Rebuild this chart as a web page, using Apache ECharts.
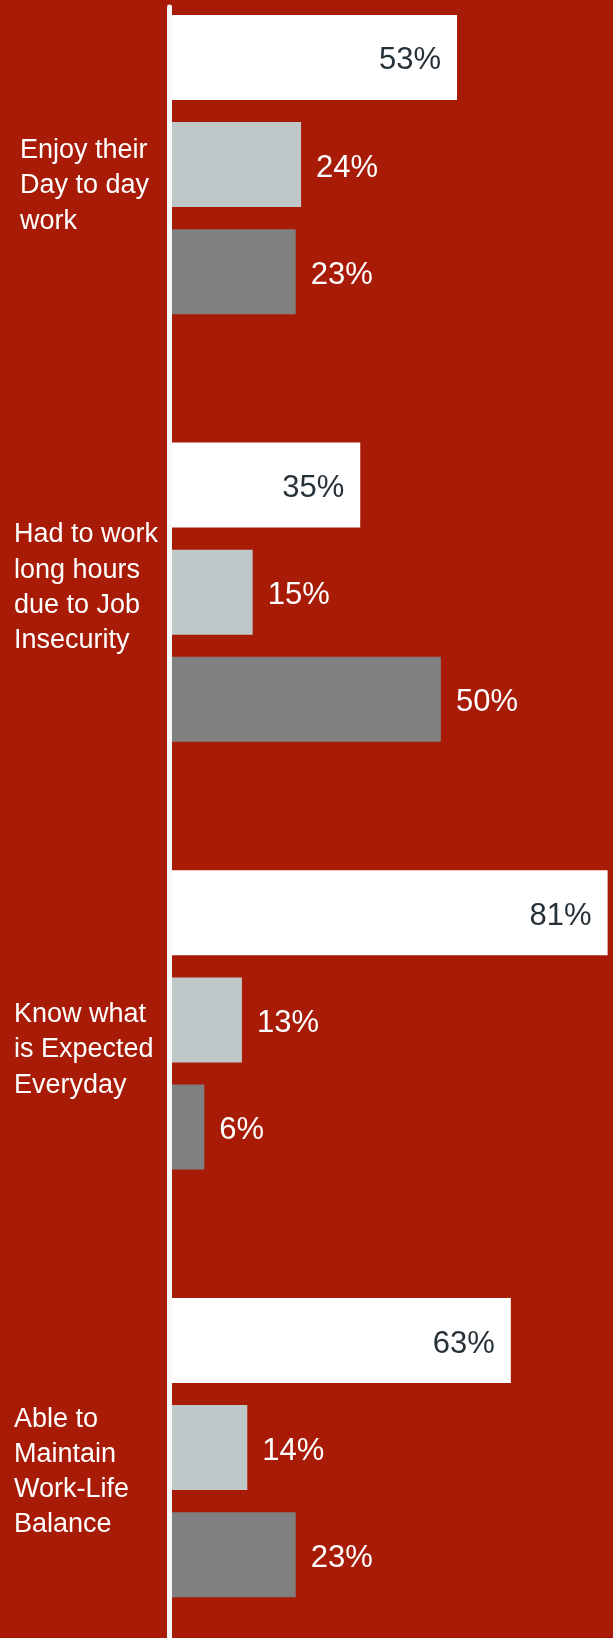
<!DOCTYPE html>
<html>
<head>
<meta charset="utf-8">
<script src="https://cdn.jsdelivr.net/npm/echarts@6/dist/echarts.min.js"></script>
<style>
html,body{margin:0;padding:0;background:#a81b07;}
#c{width:613px;height:1638px;}
</style>
</head>
<body>
<div id="c"></div>
<script>
// ---- data ----
var categories = [
  'Enjoy their\nDay to day\nwork',
  'Had to work\nlong hours\ndue to Job\nInsecurity',
  'Know what\nis Expected\nEveryday',
  'Able to\nMaintain\nWork-Life\nBalance'
];
var seriesA = [53, 35, 81, 63];
var seriesB = [24, 15, 13, 14];
var seriesC = [23, 50, 6, 23];

// ---- label layout tweaks (style only) ----
var labelShift = [21.5, -4.5, 30, 24.5];   // px, vertical offset of each category label block
var labelIndent = [6, 0, 0, 0];           // px, extra left indent

var chart = echarts.init(document.getElementById('c'), null, {renderer: 'canvas'});
var font = 'Liberation Sans, Arial, Helvetica, sans-serif';

function mkSeries(data, color, inside) {
  return {
    type: 'bar',
    xAxisIndex: 0,
    yAxisIndex: 0,
    data: data,
    barWidth: 85,
    barGap: '26%',
    itemStyle: {color: color},
    label: {
      show: true,
      position: inside ? 'insideRight' : 'right',
      distance: inside ? 16 : 15,
      offset: [0, 3.5],
      formatter: '{c}%',
      color: inside ? '#263238' : '#ffffff',
      fontSize: 31,
      fontFamily: font
    },
    silent: true,
    animation: false
  };
}

var rich = {};
labelShift.forEach(function (s, i) {
  rich['sp' + i] = {lineHeight: Math.abs(s) * 2, fontSize: 1, color: 'rgba(0,0,0,0)', fontFamily: font};
});

var option = {
  backgroundColor: '#a81b07',
  animation: false,
  grid: [
    {left: 172, right: 0, top: -49.3, bottom: -23.4, containLabel: false, outerBoundsMode: 'none'},
    {left: 169, width: 10, top: 7, bottom: 0, containLabel: false, outerBoundsMode: 'none'}
  ],
  xAxis: [
    {type: 'value', gridIndex: 0, min: 0, max: 82, show: false},
    {type: 'value', gridIndex: 1, min: 0, max: 1, show: false}
  ],
  yAxis: [
    {
      type: 'category',
      gridIndex: 0,
      inverse: true,
      data: categories.map(function (c, i) {
        return {value: c, textStyle: {padding: [0, 0, 0, labelIndent[i]], align: 'left'}};
      }),
      axisLine: {show: false},
      axisTick: {show: false},
      splitLine: {show: false},
      axisLabel: {
        show: true,
        align: 'left',
        margin: 158,
        color: '#ffffff',
        fontSize: 27,
        lineHeight: 35.3,
        fontFamily: font,
        rich: rich,
        formatter: function (value, index) {
          var s = labelShift[index];
          var sp = '{sp' + index + '| }';
          return s >= 0 ? sp + '\n' + value : value + '\n' + sp;
        }
      }
    },
    {
      type: 'value',
      gridIndex: 1,
      min: 0,
      max: 1,
      axisLine: {show: true, lineStyle: {color: '#f8f8f8', width: 5}},
      axisTick: {show: false},
      axisLabel: {show: false},
      splitLine: {show: false}
    }
  ],
  series: [
    mkSeries(seriesA, '#ffffff', true),
    mkSeries(seriesB, '#bfc7c9', false),
    mkSeries(seriesC, '#808080', false)
  ]
};
chart.setOption(option);
</script>
</body>
</html>
